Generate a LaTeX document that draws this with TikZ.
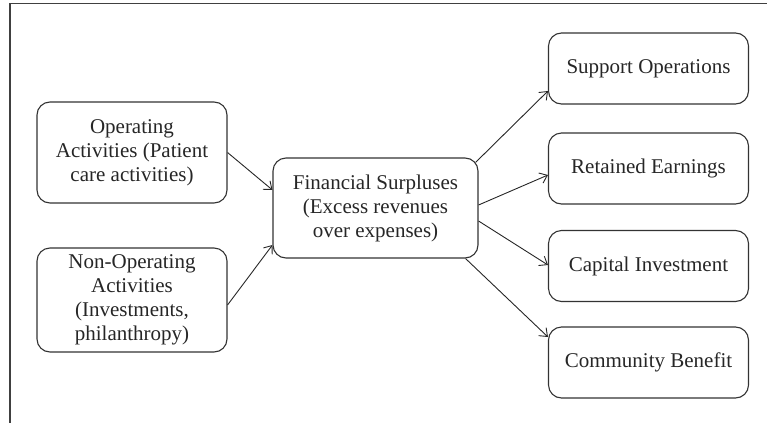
\documentclass[tikz,border=0pt]{standalone}
\usepackage{fontspec}
\setmainfont{Liberation Serif}
\usetikzlibrary{arrows.meta}

\begin{document}
\begin{tikzpicture}[x=1pt,y=-1pt,
        flowbox/.style={draw=black!80, line width=1.1pt, rounded corners=13pt,
            align=center, inner sep=2pt, text=black!85,
            font=\fontsize{21}{24}\selectfont},
        leftbox/.style={flowbox, minimum width=190pt},
        rightbox/.style={flowbox, minimum width=200pt, minimum height=71pt},
        flow/.style={-{Straight Barb[length=7pt,width=11pt]}, line width=0.9pt, black!85}]
    \useasboundingbox (0,0) rectangle (767,423);

    % frame, only top and left edge visible
    \draw[line width=1.5pt, black!75] (767,3.5) -- (10,3.5) -- (10,423);

    \node[leftbox, minimum height=101pt] (operating) at (132,152.5)
        {Operating\\Activities (Patient\\care activities)};
    \node[leftbox, minimum height=104pt] (nonoperating) at (132,300)
        {Non-Operating\\Activities\\(Investments,\\philanthropy)};

    \node[flowbox, minimum width=205pt, minimum height=100pt] (surplus) at (375.5,208)
        {Financial Surpluses\\(Excess revenues\\over expenses)};

    \node[rightbox] (support) at (648.5,68.5) {Support Operations};
    \node[rightbox] (retained) at (648.5,168.5) {Retained Earnings};
    \node[rightbox] (capital) at (648.5,266) {Capital Investment};
    \node[rightbox] (community) at (648.5,362.5) {Community Benefit};

    \draw[flow] (operating.east) -- ([yshift=18pt]surplus.west);
    \draw[flow] ([yshift=-5pt]nonoperating.east) -- ([yshift=-37pt]surplus.west);

    \draw[flow] ([shift={(-3pt,-5pt)}]surplus.north east) -- ([yshift=-22.5pt]support.west);
    \draw[flow] ([yshift=3pt]surplus.east) -- ([yshift=-6.5pt]retained.west);
    \draw[flow] ([yshift=-13pt]surplus.east) -- ([yshift=1pt]capital.west);
    \draw[flow] ([xshift=-13pt]surplus.south east) -- ([yshift=25.5pt]community.west);
\end{tikzpicture}
\end{document}
